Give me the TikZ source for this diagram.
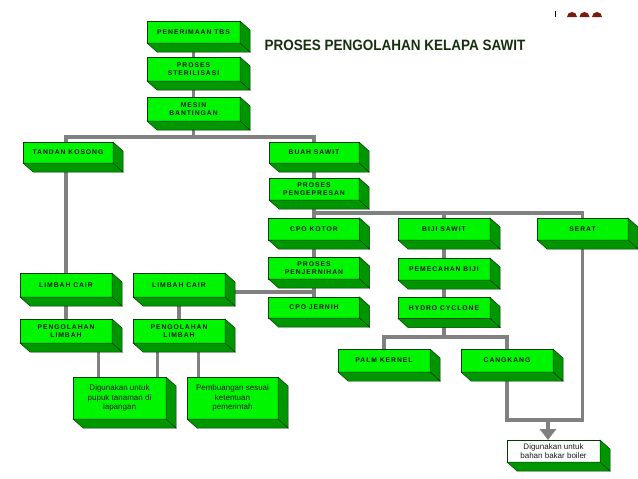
\documentclass[tikz,border=0pt]{standalone}
\usepackage{fontspec}
\usepackage{graphicx}
\setmainfont{Liberation Sans}
\newfontfamily\boxfont[LetterSpace=14]{Liberation Sans}
\usetikzlibrary{calc,arrows.meta}
\definecolor{tbsgreen}{RGB}{0,245,0}
\definecolor{sidegreen}{RGB}{0,150,0}
\definecolor{edgegreen}{RGB}{0,60,0}
\definecolor{linkgray}{RGB}{128,128,128}
\definecolor{titlegreen}{RGB}{22,48,14}
\definecolor{domered}{RGB}{120,28,14}
\pgfdeclarelayer{bg}
\pgfsetlayers{bg,main}
\tikzset{
  slab/.style={draw=edgegreen, line width=0.5pt, fill=tbsgreen, inner sep=0pt, outer sep=0pt,
    minimum width=92pt, minimum height=23pt, align=center, text=black!90,
    font=\boxfont\bfseries\fontsize{6.8}{8.4}\selectfont},
  slabside/.style={draw=edgegreen, line width=0.5pt, fill=sidegreen},
  note/.style={font=\fontsize{8}{9.5}\selectfont\mdseries},
  link/.style={draw=linkgray, line width=3.2pt}
}
% box with its two dark faces: \slab[options]{name}(x,y){text}
\def\slab[#1]#2(#3)#4{%
  \node[slab,#1] (#2) at (#3) {#4};
  \filldraw[slabside] (#2.north east) -- ++(10,9) -- ($(#2.south east)+(10,9)$) -- (#2.south east) -- cycle;
  \filldraw[slabside] (#2.south west) -- (#2.south east) -- ++(10,9) -- ($(#2.south west)+(10,9)$) -- cycle;
}

\begin{document}
\begin{tikzpicture}[x=1pt,y=-1pt]
		%%%%% START %%%%%
		\begin{pgfonlayer}{bg}
			\fill[white] (0,0) rectangle (638,479);
		\end{pgfonlayer}
		\useasboundingbox (0,0) rectangle (638,479);

		\node[font=\fontsize{15}{15}\selectfont\bfseries, text=titlegreen] (title) at (395,45)
			{\scalebox{0.9}[1]{PROSES PENGOLAHAN KELAPA SAWIT}};

		\draw[line width=1pt] (555,11) -- (555,17);
		\fill[domered] (567,17) arc (180:360:5) -- cycle;
		\fill[domered] (579.5,17) arc (180:360:5) -- cycle;
		\fill[domered] (592,17) arc (180:360:5) -- cycle;

		\slab[minimum width=93pt, minimum height=22pt]{pen}(193.5,32){PENERIMAAN TBS}
		\slab[minimum width=93pt, minimum height=24pt]{steril}(193.5,69){PROSES\\STERILISASI}
		\slab[minimum width=93pt, minimum height=24pt]{mesin}(193.5,109){MESIN\\BANTINGAN}

		\slab[minimum width=90pt, minimum height=21pt]{tk}(68,152.5){TANDAN KOSONG}
		\slab[minimum width=90pt, minimum height=21pt]{bs}(314,152.5){BUAH SAWIT}
		\slab[minimum width=90pt, minimum height=22pt]{peng}(314,189){PROSES\\PENGEPRESAN}

		\slab[minimum width=91pt, minimum height=22pt]{cpok}(314,229){CPO KOTOR}
		\slab[minimum width=91pt, minimum height=22pt]{jern}(314,268){PROSES\\PENJERNIHAN}
		\slab[minimum width=91pt, minimum height=21pt]{cpoj}(314,307.5){CPO JERNIH}

		\slab[minimum height=22pt]{biji}(444,229){BIJI SAWIT}
		\slab[minimum height=22pt]{pemb}(444,269){PEMECAHAN BIJI}
		\slab[minimum height=21pt]{hydro}(444,308){HYDRO CYCLONE}
		\slab[minimum width=91pt, minimum height=22pt]{serat}(582.5,229){SERAT}

		\slab[minimum height=24pt]{lc1}(66,285){LIMBAH CAIR}
		\slab[minimum height=24pt]{lc2}(179,285){LIMBAH CAIR}
		\slab[minimum height=24pt]{pl1}(66,331){PENGOLAHAN\\LIMBAH}
		\slab[minimum height=24pt]{pl2}(179,331){PENGOLAHAN\\LIMBAH}

		\slab[minimum width=93pt, minimum height=42pt, note]{pupuk}(119.5,398){Digunakan untuk\\pupuk tanaman di\\lapangan}
		\slab[minimum width=91pt, minimum height=42pt, note]{buang}(232.5,398){Pembuangan sesuai\\ketentuan\\pemerintah}

		\slab[minimum height=23pt]{pk}(384,360.5){PALM KERNEL}
		\slab[minimum height=23pt]{cang}(507,360.5){CANGKANG}
		\slab[minimum width=93pt, minimum height=22pt, fill=white, note]{boiler}(553.5,451){Digunakan untuk\\bahan bakar boiler}

		\coordinate (split1) at (193.5,137);
		\coordinate (split2) at (314,213);
		\coordinate (split3) at (444,337);
		\coordinate (turn) at (548,420);

		\begin{pgfonlayer}{bg}
			\draw[link] (pen.center) -- (mesin.center) -- (split1);
			\draw[link] (tk.center -| lc1.center) |- (split1) -| (bs.center);
			\draw[link] (tk.center -| lc1.center) -- (pl1.center);
			\draw[link] (bs.center) -- (cpoj.center);
			\draw[link] (split2) -| (biji.center) -- (hydro.center);
			\draw[link] (split2) -| (serat.center);
			\draw[link] (lc2.center) -- (pl2.center);
			\draw[link] ([yshift=-7pt]lc2.center) -- ([yshift=-7pt]lc2.center -| cpoj.center);
			\draw[link] ([xshift=-21pt]pupuk.north) -- ([xshift=-21pt]pupuk.north |- pl1.center);
			\draw[link] ([xshift=38pt]pupuk.north) -- ([xshift=38pt]pupuk.north |- pl2.center);
			\draw[link] ([xshift=-34pt]buang.north) -- ([xshift=-34pt]buang.north |- pl2.center);
			\draw[link] (hydro.center) -- (split3);
			\draw[link] (pk.center) |- (split3) -| (cang.center);
			\draw[link] (cang.center) |- (turn) -| (serat.center);
		\end{pgfonlayer}
		\draw[link, line width=4pt, -{Triangle[width=16pt,length=11pt]}] (turn) -- (turn |- boiler.north);

		%%%%% END %%%%%
\end{tikzpicture}
\end{document}
